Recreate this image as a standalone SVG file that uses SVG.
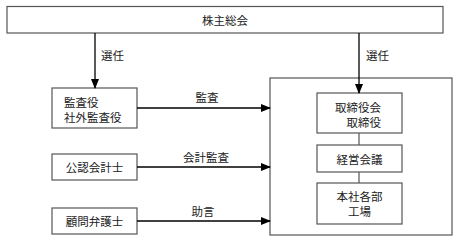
<svg xmlns="http://www.w3.org/2000/svg" width="458" height="242" viewBox="0 0 458 242">
<style>
.box{fill:#fff;stroke:#555;stroke-width:1.2}
.t{font-family:"Noto Sans CJK JP",sans-serif;font-size:11.5px;fill:#222;dominant-baseline:central}
.c{text-anchor:middle}
.ln{stroke:#000;stroke-width:1.3;fill:none}
.gl{stroke:#555;stroke-width:1.2;fill:none}
</style>
<defs>
<marker id="ah" markerWidth="10" markerHeight="8" refX="9" refY="4" orient="auto" markerUnits="userSpaceOnUse">
<path d="M0,0 L10,4 L0,8 Z" fill="#000"/>
</marker>
</defs>
<rect width="458" height="242" fill="#fff"/>
<g id="shareholders">
<rect class="box" x="7" y="6.5" width="436" height="26.5"/>
<text class="t c" x="225" y="20">株主総会</text>
</g>
<g id="company">
<rect class="box" x="270" y="78" width="182" height="157"/>
</g>
<g id="auditors">
<rect class="box" x="52" y="88" width="85" height="40"/>
<text class="t" x="64" y="102">監査役</text>
<text class="t" x="64" y="117">社外監査役</text>
</g>
<g id="cpa">
<rect class="box" x="52" y="154" width="85" height="26"/>
<text class="t c" x="94.5" y="167">公認会計士</text>
</g>
<g id="lawyer">
<rect class="box" x="52" y="208" width="85" height="26"/>
<text class="t c" x="94.5" y="221">顧問弁護士</text>
</g>
<g id="board">
<rect class="box" x="317" y="93" width="85" height="40"/>
<text class="t" x="335" y="106.5">取締役会</text>
<text class="t" x="346.5" y="121.5">取締役</text>
</g>
<g id="management">
<rect class="box" x="317" y="145" width="85" height="27"/>
<text class="t c" x="359.5" y="158.5">経営会議</text>
</g>
<g id="departments">
<rect class="box" x="317" y="183" width="85" height="41"/>
<text class="t c" x="359.5" y="196">本社各部</text>
<text class="t c" x="359.5" y="211">工場</text>
</g>
<g id="connectors">
<line class="ln" x1="95" y1="33" x2="95" y2="88" marker-end="url(#ah)"/>
<line class="ln" x1="359" y1="33" x2="359" y2="93" marker-end="url(#ah)"/>
<line class="ln" x1="137" y1="108" x2="270" y2="108" marker-end="url(#ah)"/>
<line class="ln" x1="137" y1="167" x2="270" y2="167" marker-end="url(#ah)"/>
<line class="ln" x1="137" y1="221" x2="270" y2="221" marker-end="url(#ah)"/>
<line class="gl" x1="359" y1="133" x2="359" y2="145"/>
<line class="gl" x1="359" y1="172" x2="359" y2="183"/>
<text class="t" x="101" y="55">選任</text>
<text class="t" x="366" y="55">選任</text>
<text class="t c" x="207" y="97">監査</text>
<text class="t c" x="206" y="157">会計監査</text>
<text class="t c" x="203" y="211">助言</text>
</g>
</svg>
